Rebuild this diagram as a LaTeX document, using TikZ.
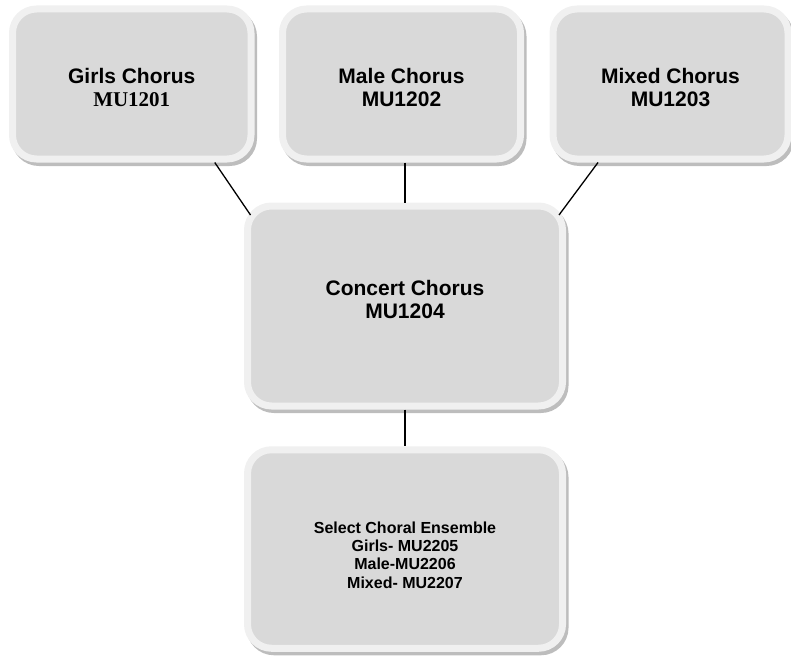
\documentclass[tikz,border=0pt]{standalone}
\usepackage{fontspec}
\setmainfont{Liberation Sans}
\newfontfamily\serifmu{Liberation Serif}
\usetikzlibrary{shadows,calc}
\definecolor{boxfill}{HTML}{D9D9D9}
\definecolor{boxrim}{HTML}{F0F0F0}
\definecolor{boxshade}{HTML}{BDBDBD}
\tikzset{
  chbox/.style={rectangle, rounded corners=24pt, fill=boxfill, draw=boxrim, line width=7pt,
    drop shadow={shadow xshift=2.5pt, shadow yshift=-3.5pt, fill=boxshade, draw=boxshade, line width=7pt, opacity=1}},
  boxtext/.style={align=center, inner sep=0pt, font=\bfseries\fontsize{21}{23}\selectfont},
  smalltext/.style={align=center, inner sep=0pt, font=\bfseries\fontsize{16}{18.3}\selectfont},
  link/.style={draw=black, line width=1.3pt}
}
\begin{document}
\begin{tikzpicture}[x=1pt,y=-1pt]
\useasboundingbox (0,0) rectangle (791,658);
\node[chbox, minimum width=238.5pt, minimum height=150pt,
  label={[boxtext, yshift=-3.5pt, name=gt]center:{Girls Chorus\\{\serifmu\bfseries MU1201}}}] (g) at (131.75,84) {};
\node[chbox, minimum width=238pt, minimum height=150pt,
  label={[boxtext, yshift=-3.5pt, name=mt]center:{Male Chorus\\MU1202}}] (m) at (401.5,84) {};
\node[chbox, minimum width=235pt, minimum height=150pt,
  label={[boxtext, yshift=-4pt, name=xt]center:{Mixed Chorus\\MU1203}}] (x) at (670.5,84) {};
\node[chbox, minimum width=315pt, minimum height=200pt,
  label={[boxtext, yshift=6.5pt, name=ct]center:{Concert Chorus\\MU1204}}] (c) at (405,306) {};
\node[chbox, minimum width=315pt, minimum height=198.5pt,
  label={[smalltext, yshift=-6pt, name=st]center:{Select Choral Ensemble\\Girls- MU2205\\Male-MU2206\\Mixed- MU2207}}] (s) at (405,549) {};
\draw[link] ([xshift=83pt]g.south) -- ([xshift=6.5pt,yshift=-12.5pt]c.north west);
\draw[link] (m.south -| c.north) -- (c.north);
\draw[link] ([xshift=-72.5pt]x.south) -- ([xshift=-7pt,yshift=-12.5pt]c.north east);
\draw[link] (c.south) -- (s.north);
\end{tikzpicture}
\end{document}
